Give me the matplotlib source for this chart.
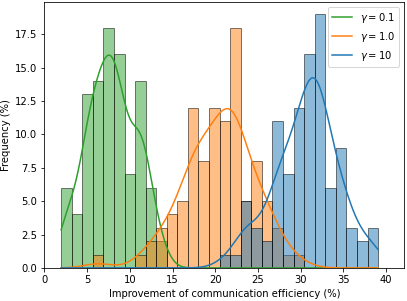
import numpy as np
import matplotlib.pyplot as plt

# shared bins of the three histograms
bin_lo, bin_hi, n_bins = 1.96, 39.05, 30

# frequency (%) in every bin
freq_g01 = [6, 4, 13, 14, 18, 16, 7, 14, 6, 2,
            0, 0, 0, 0, 0, 0, 0, 0, 0, 0,
            0, 0, 0, 0, 0, 0, 0, 0, 0, 0]
freq_g1 = [0, 0, 0, 1, 0, 0, 0, 1, 2, 3,
           4, 5, 12, 8, 12, 11, 18, 5, 8, 5,
           3, 1, 1, 0, 0, 0, 0, 0, 0, 0]
freq_g10 = [0, 0, 0, 0, 0, 0, 0, 0, 0, 0,
            0, 0, 0, 0, 0, 1, 1, 5, 3, 2,
            11, 7, 12, 16, 19, 6, 9, 3, 2, 3]

labels = [r"$\gamma = 0.1$", r"$\gamma = 1.0$", r"$\gamma = 10$"]
colors = ["#2ca02c", "#ff7f0e", "#1f77b4"]

edges = np.linspace(bin_lo, bin_hi, n_bins + 1)
width = edges[1] - edges[0]
centers = (edges[:-1] + edges[1:]) / 2
grid = np.linspace(bin_lo, bin_hi, 300)


def kde_percent(freq):
    # gaussian kde (scott) of the binned samples, scaled like the percent histogram
    x = np.repeat(centers, freq)
    n = len(x)
    bw = x.std(ddof=1) * n ** (-1 / 5)
    z = (grid[:, None] - x[None, :]) / bw
    dens = np.exp(-0.5 * z ** 2).sum(axis=1) / (n * bw * np.sqrt(2 * np.pi))
    return dens * 100 * width


fig, ax = plt.subplots(figsize=(407 / 72, 301 / 72), dpi=72)
fig.subplots_adjust(left=0.109, right=0.993, bottom=0.11, top=0.995)

lines = []
for freq, c, lab in zip([freq_g01, freq_g1, freq_g10], colors, labels):
    freq = np.array(freq)
    keep = freq > 0
    ax.bar(edges[:-1][keep], freq[keep], width=width, align="edge", color=c,
           alpha=0.5, edgecolor="black", linewidth=1)
    ln, = ax.plot(grid, kde_percent(freq), color=c, lw=1.5, label=lab)
    lines.append(ln)

ax.set_xlim(0, 42.1)
ax.set_ylim(0, 19.95)
ax.set_xlabel("Improvement of communication efficiency (%)")
ax.set_ylabel("Frequency (%)")
ax.legend(handles=lines, loc="upper right")

plt.savefig("out.png", dpi=72)
